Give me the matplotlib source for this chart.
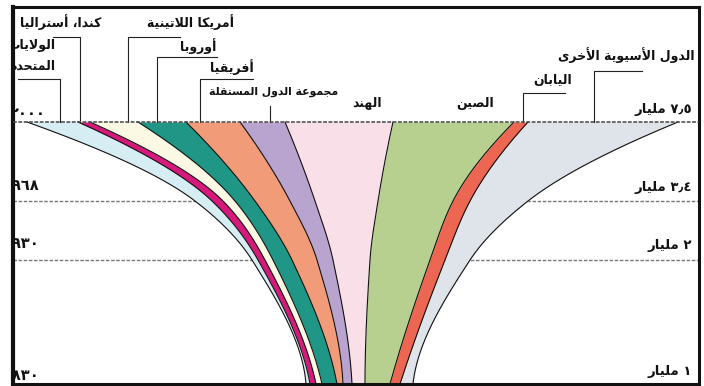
import numpy as np
import matplotlib
matplotlib.use("Agg")
import matplotlib.pyplot as plt

# ---------------- data (as drawn, millions of people) ----------------
regions = ["الولايات المتحدة", "كندا، أستراليا", "أمريكا اللاتينية", "أوروبا",
           "أفريقيا", "مجموعة الدول المستقلة", "الهند", "الصين", "اليابان",
           "الدول الأسيوية الأخرى"]
years = [2000, 1968, 1930, 1830]
totals_bn = ["7.5", "3.4", "2", "1"]
pop_2000 = [510, 120, 480, 480, 540, 450, 1080, 1210, 140, 1500]
pop_1968 = [170, 110, 120, 200, 350, 250, 630, 750, 170, 580]
pop_1930 = [60, 70, 80, 190, 250, 160, 370, 600, 150, 250]
pop_1830 = [40, 60, 60, 150, 60, 90, 130, 250, 100, 130]

# ---------------- layout / style ----------------
colors = ["#d6edf3", "#d8197c", "#fbf8e3", "#1f9686", "#f29b79",
          "#b9a4d0", "#f8dfe8", "#b8d08f", "#ec6651", "#dfe4ea"]
level_y = [122, 201, 260, 384]          # vertical position of each year row (px)
band_left = [140, 1820, 2390, 2930]     # left edge of the funnel at each row
year_x = [10, 4, 4, 4]                  # left position of the year labels (px)
W, H = 704, 386
FL, FR, FT, FB = 13, 699, 7, 384        # frame in px


def px(x):
    return (x - FL) * 10.0


# ---------------- Arabic shaping (presentation forms) ----------------
DUAL = {'ئ': 0xFE89, 'ب': 0xFE8F, 'ت': 0xFE95, 'ث': 0xFE99, 'ج': 0xFE9D,
        'ح': 0xFEA1, 'خ': 0xFEA5, 'س': 0xFEB1, 'ش': 0xFEB5, 'ص': 0xFEB9,
        'ض': 0xFEBD, 'ط': 0xFEC1, 'ظ': 0xFEC5, 'ع': 0xFEC9, 'غ': 0xFECD,
        'ف': 0xFED1, 'ق': 0xFED5, 'ك': 0xFED9, 'ل': 0xFEDD, 'م': 0xFEE1,
        'ن': 0xFEE5, 'ه': 0xFEE9, 'ي': 0xFEF1}
RIGHT = {'آ': 0xFE81, 'أ': 0xFE83, 'ؤ': 0xFE85, 'إ': 0xFE87, 'ا': 0xFE8D,
         'ة': 0xFE93, 'د': 0xFEA9, 'ذ': 0xFEAB, 'ر': 0xFEAD, 'ز': 0xFEAF,
         'و': 0xFEED, 'ى': 0xFEEF}
LAMALEF = {'آ': 0xFEF5, 'أ': 0xFEF7, 'إ': 0xFEF9, 'ا': 0xFEFB}


def shape(s):
    out, prev, i, n = [], False, 0, len(s)
    while i < n:
        c = s[i]
        if c == 'ل' and i + 1 < n and s[i + 1] in LAMALEF:
            out.append(chr(LAMALEF[s[i + 1]] + (1 if prev else 0)))
            prev = False
            i += 2
            continue
        if c in DUAL:
            nxt = i + 1 < n and (s[i + 1] in DUAL or s[i + 1] in RIGHT)
            b = DUAL[c]
            f = b + 3 if (prev and nxt) else b + 1 if prev else b + 2 if nxt else b
            out.append(chr(f))
            prev = True
        elif c in RIGHT:
            out.append(chr(RIGHT[c] + (1 if prev else 0)))
            prev = False
        else:
            out.append(c)
            prev = False
        i += 1
    return ''.join(out)


def ar(s):
    return shape(s)[::-1]


DIG = str.maketrans("0123456789.", "٠١٢٣٤٥٦٧٨٩٫")


def adig(v):
    return str(v).translate(DIG)


def pchip(xk, yk, xq):
    xk = np.asarray(xk, float)
    yk = np.asarray(yk, float)
    h = np.diff(xk)
    d = np.diff(yk) / h
    n = len(xk)
    m = np.zeros(n)
    for k in range(1, n - 1):
        if d[k - 1] * d[k] <= 0:
            m[k] = 0
        else:
            w1 = 2 * h[k] + h[k - 1]
            w2 = h[k] + 2 * h[k - 1]
            m[k] = (w1 + w2) / (w1 / d[k - 1] + w2 / d[k])

    def ends(h0, h1, d0, d1):
        s = ((2 * h0 + h1) * d0 - h0 * d1) / (h0 + h1)
        if np.sign(s) != np.sign(d0):
            s = 0
        elif np.sign(d0) != np.sign(d1) and abs(s) > abs(3 * d0):
            s = 3 * d0
        return s

    m[0] = ends(h[0], h[1], d[0], d[1])
    m[-1] = ends(h[-1], h[-2], d[-1], d[-2])
    idx = np.clip(np.searchsorted(xk, xq) - 1, 0, n - 2)
    t = (xq - xk[idx]) / h[idx]
    hh = h[idx]
    h00 = 2 * t**3 - 3 * t**2 + 1
    h10 = t**3 - 2 * t**2 + t
    h01 = -2 * t**3 + 3 * t**2
    h11 = t**3 - t**2
    return h00 * yk[idx] + h10 * hh * m[idx] + h01 * yk[idx + 1] + h11 * hh * m[idx + 1]


# ---------------- figure ----------------
fig = plt.figure(figsize=(W / 100, H / 100), dpi=100)
fig.patch.set_facecolor("white")
ax = fig.add_axes([FL / W, 1 - FB / H, (FR - FL) / W, (FB - FT) / H])
ax.set_xlim(0, px(FR))
ax.set_ylim(FB, FT)
ax.set_xticks([])
ax.set_yticks([])
for s in ax.spines.values():
    s.set_linewidth(2.2)
    s.set_color("#111111")
ax.spines["left"].set_linewidth(3)

pops = np.array([pop_2000, pop_1968, pop_1930, pop_1830], float)
bounds = np.array(band_left)[:, None] + np.hstack([np.zeros((4, 1)), np.cumsum(pops, axis=1)])

yy = np.linspace(level_y[0], level_y[-1], 400)
curves = [pchip(level_y, bounds[:, k], yy) for k in range(bounds.shape[1])]

# row lines (behind funnel)
for y in level_y[1:3]:
    ax.plot([0, px(FR)], [y, y], color="#777777", lw=1.0, ls=(0, (2.5, 1.2)), zorder=1)
ax.plot([0, px(FR)], [level_y[0], level_y[0]], color="#444444", lw=1.1,
        ls=(0, (2.5, 1.0)), zorder=5)

for k in range(len(regions)):
    ax.fill_betweenx(yy, curves[k], curves[k + 1], color=colors[k], lw=0, zorder=2)
for c in curves:
    ax.plot(c, yy, color="#111111", lw=0.8, zorder=3)

# leader lines (px coords)
leaders = [
    [(18, 79), (60, 79), (60, 122)],
    [(53, 37), (80, 37), (80, 122)],
    [(180, 37), (128, 37), (128, 122)],
    [(217, 57), (157, 57), (157, 122)],
    [(253, 79), (200, 79), (200, 122)],
    [(270, 106), (270, 122)],
    [(565, 93), (523, 93), (523, 122)],
    [(642, 71), (594, 71), (594, 122)],
]
for seg in leaders:
    xs = [px(p[0]) for p in seg]
    ys = [p[1] for p in seg]
    ax.plot(xs, ys, color="#222222", lw=0.8, zorder=4)

fkw = dict(family=["DejaVu Sans"], fontweight="bold", color="#111111",
           va="center", zorder=6, clip_on=True)

# region labels: (text, x, y, ha, size)
labels = [
    (ar("الولايات"), 55, 46, "right", 9),
    (ar("المتحدة"), 55, 66, "right", 9),
    (ar(regions[1]), 61, 22, "center", 9),
    (ar(regions[2]), 191, 22, "center", 9),
    (ar(regions[3]), 198, 46, "center", 9),
    (ar(regions[4]), 232, 67, "center", 9),
    (ar(regions[5]), 274, 92, "center", 7.8),
    (ar(regions[6]), 367, 104, "center", 9),
    (ar(regions[7]), 475, 104, "center", 9),
    (ar(regions[8]), 553, 80, "center", 9),
    (ar(regions[9]), 695, 55, "right", 9),
]
for t, x, y, ha, fs in labels:
    ax.text(px(x), y, t, ha=ha, fontsize=fs, **fkw)

# year labels on the left, totals on the right
year_y = [114, 186, 243, 375]
tot_y = [109, 188, 246, 372]
for yr, ty, tx in zip(years, year_y, year_x):
    ax.text(px(tx), ty, adig(yr), ha="left", fontsize=10.5, **fkw)
for tb, ty in zip(totals_bn, tot_y):
    ax.text(px(692), ty, ar("مليار") + " " + adig(tb), ha="right", fontsize=9.5, **fkw)

fig.savefig("out.png", dpi=100, facecolor="white")
